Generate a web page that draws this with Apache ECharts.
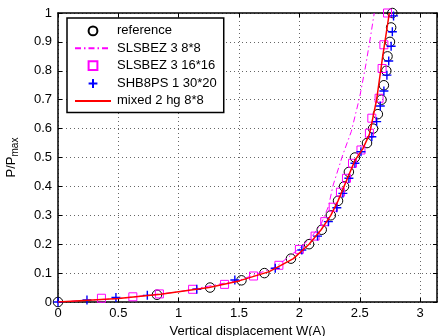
<!DOCTYPE html>
<html>
<head>
<meta charset="utf-8">
<script src="https://cdn.jsdelivr.net/npm/echarts@6/dist/echarts.min.js"></script>
<style>html,body{margin:0;padding:0;background:#fff}#c{width:438px;height:336px}</style>
</head>
<body>
<div id="c"></div>
<script>
// reference (circles)
var refX = [0, 0.82, 1.26, 1.52, 1.71, 1.93, 2.08, 2.185, 2.26, 2.32, 2.37, 2.41, 2.46, 2.56, 2.61, 2.65, 2.68, 2.70, 2.72, 2.73, 2.75, 2.76, 2.77];
var refY = [0, 0.025, 0.05, 0.075, 0.1, 0.15, 0.2, 0.25, 0.3, 0.35, 0.4, 0.45, 0.5, 0.55, 0.6, 0.65, 0.7, 0.75, 0.8, 0.85, 0.9, 0.95, 1.0];
// SLSBEZ 3 8*8 (dash-dot line)
var s8X = [0, 0.5, 1.0, 1.5, 1.8, 2.0, 2.1, 2.18, 2.24, 2.28, 2.36, 2.43, 2.50, 2.55, 2.59, 2.62];
var s8Y = [0, 0.012, 0.035, 0.075, 0.12, 0.185, 0.225, 0.27, 0.33, 0.405, 0.51, 0.59, 0.71, 0.82, 0.92, 1.0];
// SLSBEZ 3 16*16 (squares)
var s16X = [0.36, 0.62, 0.84, 1.115, 1.38, 1.62, 1.83, 2.00, 2.13, 2.21, 2.28, 2.34, 2.39, 2.44, 2.51, 2.58, 2.60, 2.66, 2.685, 2.70, 2.73];
var s16Y = [0.013, 0.018, 0.028, 0.044, 0.061, 0.09, 0.127, 0.182, 0.228, 0.278, 0.328, 0.38, 0.428, 0.48, 0.526, 0.584, 0.636, 0.705, 0.808, 0.89, 1.0];
// SHB8PS 1 30*20 (plus)
var shbX = [0, 0.24, 0.48, 0.74, 1.15, 1.465, 1.80, 2.02, 2.15, 2.24, 2.31, 2.36, 2.41, 2.46, 2.51, 2.60, 2.64, 2.67, 2.70, 2.725, 2.74, 2.76, 2.77, 2.78];
var shbY = [0, 0.007, 0.016, 0.023, 0.044, 0.076, 0.117, 0.18, 0.228, 0.278, 0.326, 0.376, 0.428, 0.48, 0.52, 0.572, 0.624, 0.678, 0.73, 0.785, 0.834, 0.885, 0.935, 0.99];
// mixed 2 hg 8*8 (red line)
var mixX = [0, 0.5, 0.85, 1.25, 1.5, 1.75, 1.95, 2.08, 2.18, 2.26, 2.32, 2.37, 2.42, 2.46, 2.525, 2.58, 2.64, 2.69, 2.745];
var mixY = [0, 0.012, 0.027, 0.05, 0.073, 0.105, 0.15, 0.2, 0.25, 0.3, 0.35, 0.40, 0.45, 0.49, 0.53, 0.58, 0.70, 0.85, 1.0];

var names = ['reference', 'SLSBEZ 3 8*8', 'SLSBEZ 3 16*16', 'SHB8PS 1 30*20', 'mixed 2 hg 8*8'];
var xLabel = 'Vertical displacement W(A)';

function zip(a, b) { return a.map(function (v, i) { return [v, b[i]]; }); }

var FONT = 'Liberation Sans, Arial, Helvetica, sans-serif';
var chart = echarts.init(document.getElementById('c'), null, {renderer: 'canvas'});

var axisCommon = {
  axisLine: {show: true, onZero: false, lineStyle: {color: '#000', width: 1.5}},
  axisTick: {show: true, inside: true, length: 4, lineStyle: {color: '#000', width: 1}},
};

var option = {
  animation: false,
  backgroundColor: '#fff',
  textStyle: {fontFamily: FONT},
  grid: {left: 58, top: 13, right: 1, bottom: 34, containLabel: false, outerBoundsMode: 'none'},
  legend: {
    orient: 'vertical', left: 67, top: 18,
    backgroundColor: '#fff', borderColor: '#000', borderWidth: 1.5,
    padding: [6, 7, 5, 7],
    itemWidth: 36, itemHeight: 11, itemGap: 4,
    textStyle: {fontSize: 13, lineHeight: 12, color: '#000', fontFamily: FONT, padding: [0, 0, 0, 1]},
    data: [
      {name: names[0]},
      {name: names[1], itemStyle: {opacity: 0}},
      {name: names[2]},
      {name: names[3]},
      {name: names[4], itemStyle: {opacity: 0}}
    ]
  },
  xAxis: [
    Object.assign({
      type: 'value', min: 0, max: 3.14, interval: 0.5, position: 'bottom',
      name: xLabel, nameLocation: 'middle', nameGap: 18,
      nameTextStyle: {fontSize: 13, color: '#000', fontFamily: FONT},
      axisLabel: {fontSize: 13, color: '#000', margin: 5, fontFamily: FONT, showMaxLabel: false,
        formatter: function (v) { return String(v); }},
      splitLine: {show: true, lineStyle: {color: '#666', type: [1, 3], width: 1}}
    }, axisCommon),
    Object.assign({
      type: 'value', min: 0, max: 3.14, interval: 0.5, position: 'top',
      axisLabel: {show: false}, splitLine: {show: false}
    }, axisCommon)
  ],
  yAxis: [
    Object.assign({
      type: 'value', min: 0, max: 1, interval: 0.1, position: 'left',
      name: 'P/P{sub|max}', nameLocation: 'middle', nameGap: 38,
      nameTextStyle: {fontSize: 13, color: '#000', fontFamily: FONT,
        rich: {sub: {fontSize: 10, color: '#000', fontFamily: FONT, padding: [7, 0, 0, 0]}}},
      axisLabel: {fontSize: 13, color: '#000', margin: 6, fontFamily: FONT,
        formatter: function (v) { return String(Math.round(v * 10) / 10); }},
      splitLine: {show: true, lineStyle: {color: '#666', type: [1, 3], width: 1}}
    }, axisCommon),
    Object.assign({
      type: 'value', min: 0, max: 1, interval: 0.1, position: 'right',
      axisLabel: {show: false}, splitLine: {show: false}
    }, axisCommon)
  ],
  series: [
    {
      name: names[0], type: 'line', data: zip(refX, refY),
      symbol: 'circle', symbolSize: 9.5, showSymbol: true,
      lineStyle: {width: 0, opacity: 0},
      itemStyle: {color: 'none', borderColor: '#000', borderWidth: 1}, z: 2
    },
    {
      name: names[1], type: 'line', data: zip(s8X, s8Y), symbol: 'none',
      lineStyle: {color: '#ff00ff', width: 1, type: [6, 3, 1.5, 3]},
      itemStyle: {color: '#ff00ff'}, z: 3
    },
    {
      name: names[2], type: 'line', data: zip(s16X, s16Y),
      symbol: 'rect', symbolSize: 8, showSymbol: true,
      lineStyle: {width: 0, opacity: 0},
      itemStyle: {color: 'none', borderColor: '#ff00ff', borderWidth: 1}, z: 4
    },
    {
      name: names[3], type: 'line', data: zip(shbX, shbY),
      symbol: 'path://M5,0L5,10M0,5L10,5', symbolSize: 9, showSymbol: true,
      lineStyle: {width: 0, opacity: 0},
      itemStyle: {color: 'none', borderColor: '#0000ff', borderWidth: 1.4}, z: 5
    },
    {
      name: names[4], type: 'line', data: zip(mixX, mixY), symbol: 'none', smooth: false,
      lineStyle: {color: '#ff0000', width: 1.5},
      itemStyle: {color: '#ff0000'}, z: 6
    }
  ]
};
chart.setOption(option);
</script>
</body>
</html>
